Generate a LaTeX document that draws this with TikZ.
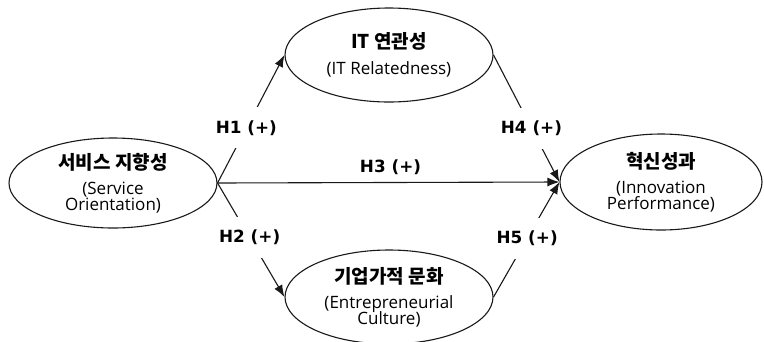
\documentclass[tikz,border=0pt]{standalone}
\usepackage{fontspec}
\setmainfont{Open Sans}
\newfontfamily\korfont{Noto Sans CJK KR}
\newfontfamily\hypfont{DejaVu Sans}
\usetikzlibrary{shapes.geometric}
\usetikzlibrary{arrows.meta}
\newcommand{\kortext}[1]{{\korfont\bfseries\fontsize{19}{19}\selectfont #1}}
\newcommand{\engsize}{\fontsize{17}{15.5}\selectfont\lineskiplimit -20pt\relax}

\begin{document}
\begin{tikzpicture}[x=1pt, y=-1pt, line width=1.1pt, draw=black!90,
    >={Latex[length=12pt,width=9pt]},
    construct/.style={ellipse, draw, inner sep=0pt, align=center, minimum width=208pt, minimum height=94pt,
      font=\engsize},
    hyp/.style={fill=white, inner xsep=1pt, inner ysep=13pt, font=\hypfont\bfseries\fontsize{16.8}{16.8}\selectfont}]
  \useasboundingbox (0,0) rectangle (764,341);

  \node[construct, minimum height=90pt] (svc) at (113,183) {\kortext{서비스 지향성}\\[10pt](Service\\Orientation)};
  \node[construct] (itr) at (389,55) {\kortext{IT 연관성}\\[10pt](IT Relatedness)};
  \node[construct] (ent) at (389,297) {\kortext{기업가적 문화}\\[10pt](Entrepreneurial\\Culture)};
  \node[construct, minimum width=202pt, minimum height=96pt] (inn) at (661,182) {\kortext{혁신성과}\\[10pt](Innovation\\Performance)};

  \draw[->] (svc.east) -- (itr.west) node[hyp, pos=0.43] {H1 (+)};
  \draw[->] (svc.east) -- (ent.west) node[hyp, pos=0.48] {H2 (+)};
  \draw[->] (svc.east) -- (inn.west) node[above, midway, xshift=2pt, inner sep=7pt, font=\hypfont\bfseries\fontsize{16.8}{16.8}\selectfont] {H3 (+)};
  \draw[->] (itr.east) -- (inn.west) node[hyp, pos=0.575] {H4 (+)};
  \draw[->] (ent.east) -- (inn.west) node[hyp, pos=0.51] {H5 (+)};
\end{tikzpicture}
\end{document}
